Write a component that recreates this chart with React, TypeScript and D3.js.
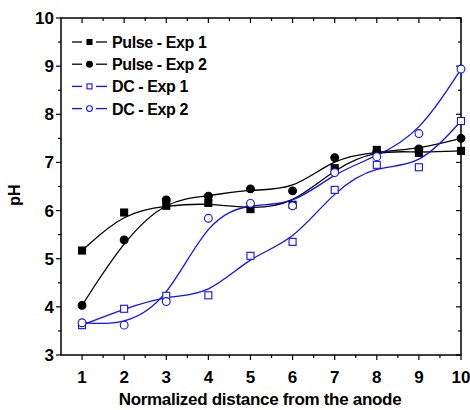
import React, { useRef, useEffect } from "react";
import * as d3 from "d3";

const xs = [1, 2, 3, 4, 5, 6, 7, 8, 9, 10];
const pulseExp1 = [5.17, 5.96, 6.1, 6.16, 6.03, 6.12, 6.88, 7.26, 7.2, 7.24];
const pulseExp2 = [4.03, 5.39, 6.22, 6.3, 6.45, 6.41, 7.1, 7.22, 7.28, 7.5];
const dcExp1 = [3.62, 3.96, 4.23, 4.24, 5.06, 5.35, 6.43, 6.95, 6.9, 7.86];
const dcExp2 = [3.67, 3.62, 4.11, 5.84, 6.15, 6.1, 6.79, 7.12, 7.6, 8.94];

const seriesNames = ["Pulse - Exp 1", "Pulse - Exp 2", "DC - Exp 1", "DC - Exp 2"];
const xTicks = [1, 2, 3, 4, 5, 6, 7, 8, 9, 10];
const yTicks = [3, 4, 5, 6, 7, 8, 9, 10];

export default function App() {
  const svgRef = useRef<SVGSVGElement>(null);

  useEffect(() => {
    const svg = d3.select(svgRef.current);
    svg.selectAll("*").remove();

    const left = 61, right = 461, top = 18, bottom = 355;
    const x = d3.scaleLinear().domain([0.5, 10]).range([left, right]);
    const y = d3.scaleLinear().domain([3, 10]).range([bottom, top]);
    const font = "Arial, 'Liberation Sans', sans-serif";

    const series = [
      { name: seriesNames[0], values: pulseExp1, color: "#000", shape: "square", fill: true },
      { name: seriesNames[1], values: pulseExp2, color: "#000", shape: "circle", fill: true },
      { name: seriesNames[2], values: dcExp1, color: "#1010ff", shape: "square", fill: false },
      { name: seriesNames[3], values: dcExp2, color: "#1010ff", shape: "circle", fill: false },
    ];

    // frame
    svg.append("rect")
      .attr("x", left).attr("y", top)
      .attr("width", right - left).attr("height", bottom - top)
      .attr("fill", "none").attr("stroke", "#000").attr("stroke-width", 1.5);

    const axes = svg.append("g").attr("stroke", "#000").attr("stroke-width", 1.2);
    const minorX = d3.range(1, 10.01, 0.5);
    minorX.forEach(v => {
      const major = Number.isInteger(v);
      const len = major ? 5 : 3;
      axes.append("line").attr("x1", x(v)).attr("x2", x(v)).attr("y1", bottom).attr("y2", bottom + len);
      axes.append("line").attr("x1", x(v)).attr("x2", x(v)).attr("y1", top).attr("y2", top + len);
    });
    const minorY = d3.range(3, 10.01, 0.5);
    minorY.forEach(v => {
      const major = Number.isInteger(v);
      const len = major ? 5 : 3;
      axes.append("line").attr("x1", left - len).attr("x2", left).attr("y1", y(v)).attr("y2", y(v));
      axes.append("line").attr("x1", right - len).attr("x2", right).attr("y1", y(v)).attr("y2", y(v));
    });

    svg.append("g").selectAll("text").data(xTicks).enter().append("text")
      .attr("x", d => x(d)).attr("y", 383)
      .attr("text-anchor", "middle")
      .attr("font-family", font).attr("font-weight", "bold").attr("font-size", 17)
      .text(d => d);

    svg.append("g").selectAll("text").data(yTicks).enter().append("text")
      .attr("x", 54).attr("y", d => y(d) + 6)
      .attr("text-anchor", "end")
      .attr("font-family", font).attr("font-weight", "bold").attr("font-size", 17)
      .text(d => d);

    svg.append("text")
      .attr("x", 260).attr("y", 405)
      .attr("text-anchor", "middle")
      .attr("font-family", font).attr("font-weight", "bold").attr("font-size", 17)
      .attr("letter-spacing", -0.3)
      .text("Normalized distance from the anode");

    svg.append("text")
      .attr("transform", "translate(20," + 195 + ") rotate(-90)")
      .attr("text-anchor", "middle")
      .attr("font-family", font).attr("font-weight", "bold").attr("font-size", 16)
      .text("pH");

    const line = d3.line<number>()
      .x((_, i) => x(xs[i]))
      .y(d => y(d))
      .curve(d3.curveBasis);

    function marker(g: any, cx: number, cy: number, s: any, size: number) {
      const h = size / 2;
      if (s.shape === "square") {
        g.append("rect")
          .attr("x", cx - h).attr("y", cy - h).attr("width", size).attr("height", size)
          .attr("fill", s.fill ? s.color : "#fff").attr("stroke", s.color).attr("stroke-width", 1.1);
      } else {
        g.append("circle")
          .attr("cx", cx).attr("cy", cy).attr("r", h + 0.4)
          .attr("fill", s.fill ? s.color : "#fff").attr("stroke", s.color).attr("stroke-width", 1.1);
      }
    }

    series.forEach(s => {
      svg.append("path")
        .attr("d", line(s.values))
        .attr("fill", "none").attr("stroke", s.color).attr("stroke-width", 1.3);
    });
    series.forEach(s => {
      const g = svg.append("g");
      s.values.forEach((v, i) => marker(g, x(xs[i]), y(v), s, 7));
    });

    // legend
    const legend = svg.append("g");
    series.forEach((s, i) => {
      const ly = 42 + i * 22.2;
      legend.append("line").attr("x1", 72).attr("x2", 82).attr("y1", ly).attr("y2", ly)
        .attr("stroke", s.color).attr("stroke-width", 1.3);
      legend.append("line").attr("x1", 96).attr("x2", 107).attr("y1", ly).attr("y2", ly)
        .attr("stroke", s.color).attr("stroke-width", 1.3);
      marker(legend, 89.5, ly, s, 5);
      legend.append("text")
        .attr("x", 112).attr("y", ly + 6)
        .attr("font-family", font).attr("font-weight", "bold").attr("font-size", 16)
        .attr("letter-spacing", -0.4)
        .text(s.name);
    });
  }, []);

  return <svg ref={svgRef} width={470} height={410} style={{ position: "absolute", left: 0, top: 0 }} />;
}
